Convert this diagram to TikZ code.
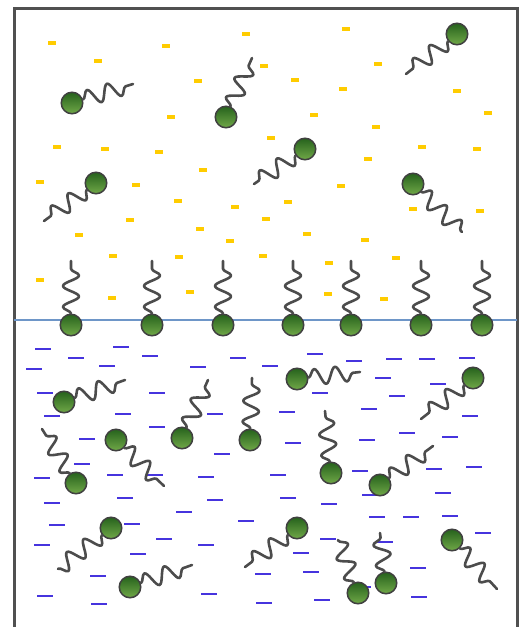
\documentclass[tikz,border=0pt]{standalone}
\usepackage{tikz}
\usetikzlibrary{decorations.pathmorphing}

\definecolor{wallgray}{RGB}{80,80,80}
\definecolor{oilyellow}{RGB}{255,204,0}
\definecolor{waterblue}{RGB}{70,52,222}
\definecolor{linkblue}{RGB}{110,150,200}
\definecolor{headdark}{RGB}{38,98,28}
\definecolor{headlight}{RGB}{112,168,72}

\begin{document}
\begin{tikzpicture}[x=1pt,y=-1pt,
    head/.style={circle,draw=black!75,line width=1.5pt,minimum size=21.5pt,inner sep=0pt,
        top color=headdark,bottom color=headlight},
    tail/.style={draw=black!70,line width=2.6pt,line cap=round,line join=round,
        decorate,decoration={snake,segment length=21pt,amplitude=8pt}},
    ydash/.style={oilyellow,line width=3.5pt},
    bdash/.style={waterblue,line width=2.6pt}]
    \useasboundingbox (0,0) rectangle (519,627);

    % container and interface
    \draw[wallgray,line width=3pt] (14,627) -- (14,8) -- (517,8) -- (517,627);
    \draw[linkblue,line width=1.8pt] (14,320) -- (517,320);

    % oil phase
    \foreach \x/\y in {52/43,98/61,166/46,246/34,198/81,171/117,57/147,105/149,159/152,
        346/29,264/66,295/80,378/64,343/89,457/91,314/115,488/113,376/127,271/138,
        422/147,477/149,368/159,40/182,203/170,136/185,178/201,235/207,130/220,
        200/229,79/235,230/241,341/186,288/202,266/219,413/209,480/211,307/234,
        365/240,113/256,179/257,40/280,112/298,190/292,263/256,329/263,396/258,
        328/294,384/299}
        \draw[ydash] (\x-4,\y) -- (\x+4,\y);

    % water phase
    \foreach \x/\y in {43/349,76/358,121/347,150/356,107/366,34/369,198/367,238/358,
        270/366,315/354,354/361,394/359,427/359,467/358,45/393,157/393,52/416,
        123/414,215/414,157/427,87/439,82/464,222/454,42/478,115/475,155/475,
        206/477,125/498,215/500,383/378,320/393,438/384,397/396,287/412,369/409,
        470/416,293/443,367/440,407/433,450/437,278/475,360/471,434/469,474/467,
        288/498,370/495,52/503,184/512,246/521,57/525,132/524,164/539,42/545,
        206/545,138/554,98/576,45/596,99/604,209/594,329/504,443/493,377/517,
        411/517,450/516,483/533,328/539,385/542,301/553,263/574,311/572,418/568,
        322/600,363/587,419/597,264/603}
        \draw[bdash] (\x-8,\y) -- (\x+8,\y);

    % molecules sitting on the interface
    \foreach \x [count=\i] in {71,152,223,293,351,421,482} {
        \node[head] (s\i) at (\x,325) {};
        \coordinate (u\i) at (\x,261);
        \draw[tail] (s\i) -- (u\i);
    }

    % free molecules
    \foreach \n/\hx/\hy/\tx/\ty in {1/72/103/133/84, 2/226/117/252/58, 3/457/34/406/74,
        4/305/149/254/184, 5/96/183/44/221, 6/413/184/462/232,
        7/64/402/125/380, 8/116/440/164/486, 9/76/483/42/429, 10/182/438/208/380,
        11/250/440/252/378, 12/297/379/360/372, 13/473/378/421/419,
        14/331/473/325/411, 15/380/485/433/446, 16/111/528/58/569,
        17/130/587/192/565, 18/297/528/245/567, 19/452/540/497/589,
        20/358/593/338/540, 21/386/583/380/533} {
        \node[head] (h\n) at (\hx,\hy) {};
        \coordinate (t\n) at (\tx,\ty);
        \draw[tail] (h\n) -- (t\n);
    }
\end{tikzpicture}
\end{document}
